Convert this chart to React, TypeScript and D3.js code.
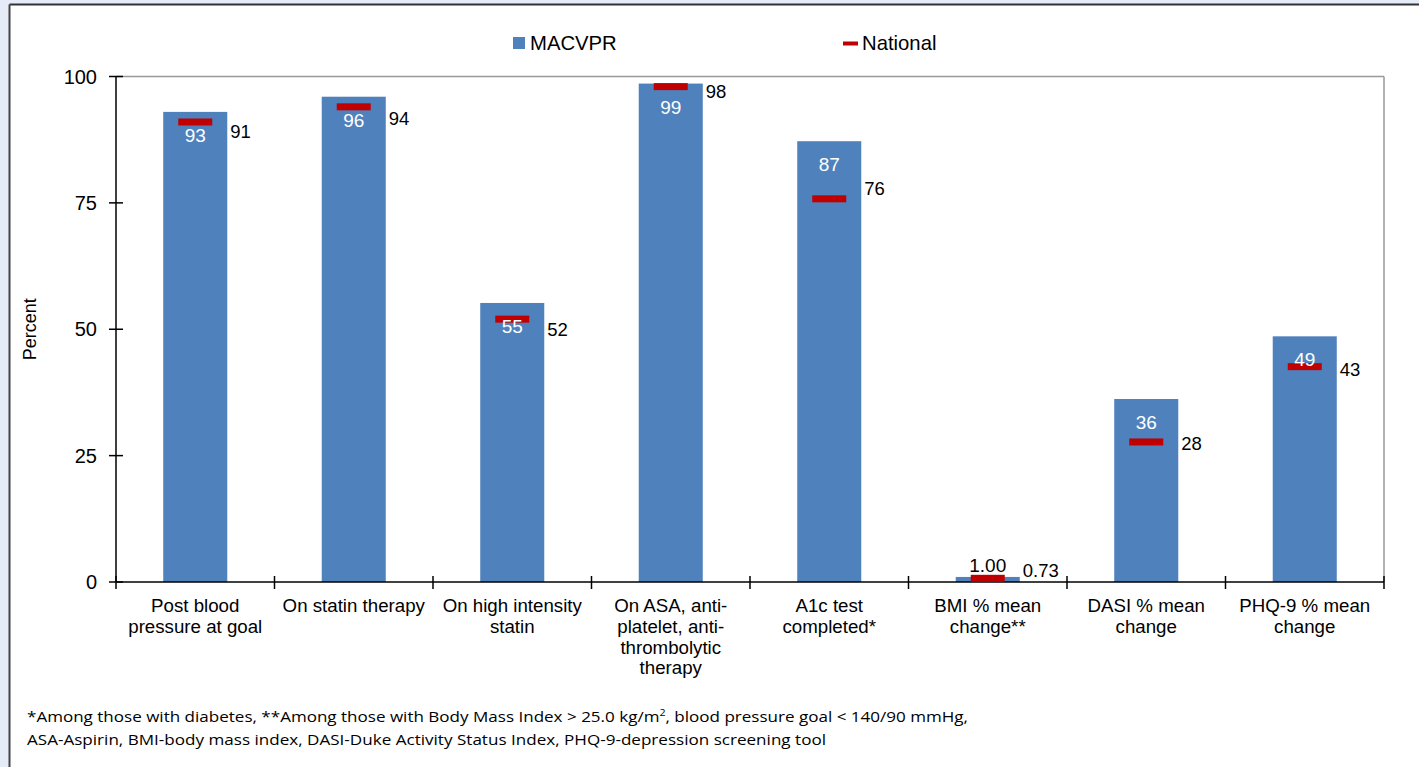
import React from "react";
import * as d3 from "d3";

const categories: string[][] = [
  ["Post blood", "pressure at goal"],
  ["On statin therapy"],
  ["On high intensity", "statin"],
  ["On ASA, anti-", "platelet, anti-", "thrombolytic", "therapy"],
  ["A1c test", "completed*"],
  ["BMI % mean", "change**"],
  ["DASI % mean", "change"],
  ["PHQ-9 % mean", "change"],
];
const macvpr: number[] = [93, 96, 55.2, 98.6, 87.2, 1.0, 36.2, 48.6];
const national: number[] = [91, 94, 52, 98, 75.8, 0.73, 27.7, 42.6];
const labelDecimals: number[] = [0, 0, 0, 0, 0, 2, 0, 0];
const nationalLabelDy: number[] = [10, 12, 10, 5, -10, -8, 2, 3];
const yTicks: number[] = [0, 25, 50, 75, 100];
const seriesNames = ["MACVPR", "National"];
const footnote1a = "*Among those with diabetes, **Among those with Body Mass Index > 25.0 kg/m";
const footnote1b = ", blood pressure goal < 140/90 mmHg,";
const footnote2 = "ASA-Aspirin, BMI-body mass index, DASI-Duke Activity Status Index, PHQ-9-depression screening tool";

const W = 1419;
const H = 767;
const left = 116;
const right = 1384;
const top = 76.5;
const bottom = 582;
const BLUE = "#4f81bd";
const RED = "#c00000";
const FONT = "'Liberation Sans', Arial, sans-serif";
const NARROW = "'Liberation Sans Narrow', 'Open Sans', sans-serif";

export default function App() {
  const keys = categories.map((c) => c.join(" "));
  const x = d3.scaleBand<string>().domain(keys).range([left, right]).padding(0);
  const y = d3.scaleLinear().domain([0, 100]).range([bottom, top]);
  const bw = x.bandwidth() * 0.404;
  const mw = 34;
  const mh = 7;
  const fmt = (v: number, d: number) => d3.format(`.${d}f`)(v);

  return (
    <svg
      width={W}
      height={H}
      style={{ position: "absolute", left: 0, top: 0, background: "#ffffff" }}
      fontFamily={FONT}
    >
      {/* page frame */}
      <rect x={0} y={0} width={W} height={4} fill="#e6ecf7" />
      <rect x={0} y={0} width={9} height={H} fill="#e6ecf7" />
      <line x1={9.5} x2={W} y1={4.5} y2={4.5} stroke="#333" strokeWidth={2} />
      <line x1={9.5} x2={9.5} y1={4.5} y2={H} stroke="#444" strokeWidth={2} />

      {/* plot area border */}
      <line x1={left} x2={right} y1={top} y2={top} stroke="#999" strokeWidth={1.5} />
      <line x1={right} x2={right} y1={top} y2={bottom} stroke="#999" strokeWidth={1.5} />

      {/* bars */}
      {keys.map((k, i) => {
        const cx = (x(k) as number) + x.bandwidth() / 2;
        return (
          <rect
            key={"b" + i}
            x={cx - bw / 2}
            y={y(macvpr[i])}
            width={bw}
            height={bottom - y(macvpr[i])}
            fill={BLUE}
          />
        );
      })}

      {/* axes */}
      <line x1={left} x2={left} y1={top} y2={bottom} stroke="#000" strokeWidth={1.5} />
      <line x1={left} x2={right} y1={bottom} y2={bottom} stroke="#000" strokeWidth={1.5} />
      {yTicks.map((t) => (
        <g key={"yt" + t}>
          <line x1={left - 7} x2={left + 7} y1={y(t)} y2={y(t)} stroke="#000" strokeWidth={1.5} />
          <text x={left - 19} y={y(t) + 7} textAnchor="end" fontSize={20} fill="#000">
            {t}
          </text>
        </g>
      ))}
      {keys.map((k, i) => (
        <line
          key={"xt" + i}
          x1={x(k) as number}
          x2={x(k) as number}
          y1={bottom - 6}
          y2={bottom + 7}
          stroke="#000"
          strokeWidth={1.5}
        />
      ))}
      <line x1={right} x2={right} y1={bottom - 6} y2={bottom + 7} stroke="#000" strokeWidth={1.5} />

      {/* category labels */}
      {categories.map((lines, i) => {
        const cx = (x(keys[i]) as number) + x.bandwidth() / 2;
        return (
          <text key={"cl" + i} x={cx} y={612} textAnchor="middle" fontSize={18.7} fill="#000">
            {lines.map((ln, j) => (
              <tspan key={j} x={cx} dy={j === 0 ? 0 : 20.8}>
                {ln}
              </tspan>
            ))}
          </text>
        );
      })}

      {/* y title */}
      <text
        transform={`translate(36,${(top + bottom) / 2}) rotate(-90)`}
        textAnchor="middle"
        fontSize={18}
        fill="#000"
      >
        Percent
      </text>

      {/* National markers */}
      {keys.map((k, i) => {
        const cx = (x(k) as number) + x.bandwidth() / 2;
        return (
          <rect
            key={"nm" + i}
            x={cx - mw / 2}
            y={y(national[i]) - mh / 2}
            width={mw}
            height={mh}
            fill={RED}
          />
        );
      })}

      {/* MACVPR labels */}
      {keys.map((k, i) => {
        const cx = (x(k) as number) + x.bandwidth() / 2;
        const h = bottom - y(macvpr[i]);
        const inside = h > 35;
        return (
          <text
            key={"ml" + i}
            x={cx}
            y={inside ? y(macvpr[i]) + 30 : y(macvpr[i]) - 5}
            textAnchor="middle"
            fontSize={19}
            fill={inside ? "#ffffff" : "#000"}
          >
            {fmt(macvpr[i], labelDecimals[i])}
          </text>
        );
      })}

      {keys.map((k, i) => {
        const cx = (x(k) as number) + x.bandwidth() / 2;
        return (
          <text
            key={"nl" + i}
            x={cx + bw / 2 + 3}
            y={y(national[i]) + nationalLabelDy[i] + 6.5}
            textAnchor="start"
            fontSize={18.5}
            fill="#000"
          >
            {fmt(national[i], labelDecimals[i])}
          </text>
        );
      })}

      {/* legend */}
      <rect x={513} y={37} width={12} height={12} fill={BLUE} />
      <text x={530} y={50} fontSize={20.3} fill="#000">
        {seriesNames[0]}
      </text>
      <rect x={843} y={41.5} width={15} height={4} fill={RED} />
      <text x={862} y={50} fontSize={20.3} fill="#000">
        {seriesNames[1]}
      </text>

      {/* footnotes */}
      <text x={27} y={722} fontSize={14.5} fontFamily={NARROW} fill="#000" textLength={941} lengthAdjust="spacingAndGlyphs">
        {footnote1a}
        <tspan fontSize={9} dy={-6}>2</tspan>
        <tspan dy={6}>{footnote1b}</tspan>
      </text>
      <text x={27} y={745} fontSize={14.5} fontFamily={NARROW} fill="#000" textLength={799} lengthAdjust="spacingAndGlyphs">
        {footnote2}
      </text>
    </svg>
  );
}
